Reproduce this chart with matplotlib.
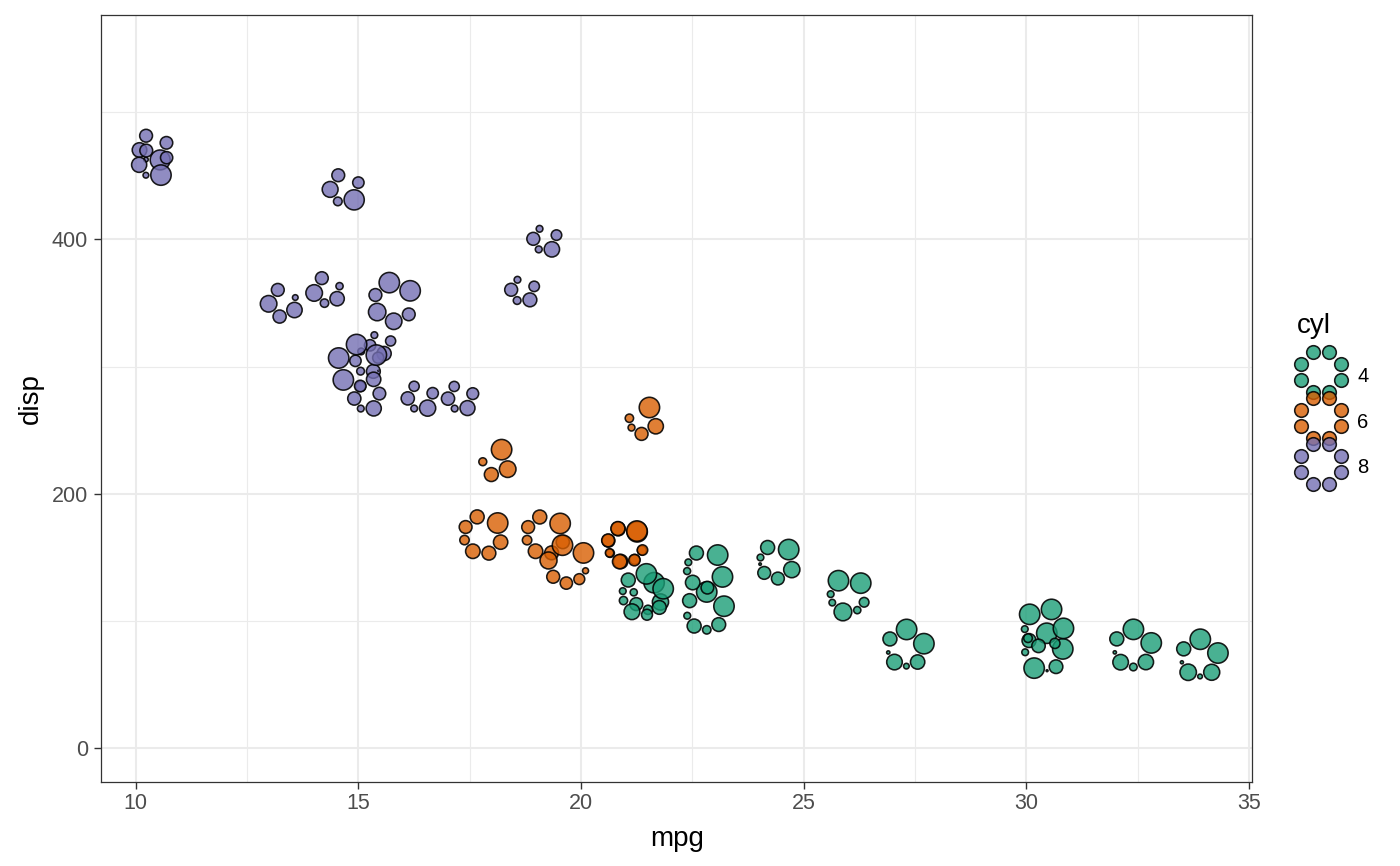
import numpy as np
import matplotlib.pyplot as plt

plt.rcParams['font.family'] = ['Liberation Sans', 'DejaVu Sans']

# mtcars
mpg = [21.0, 21.0, 22.8, 21.4, 18.7, 18.1, 14.3, 24.4, 22.8, 19.2, 17.8, 16.4, 17.3, 15.2, 10.4, 10.4,
       14.7, 32.4, 30.4, 33.9, 21.5, 15.5, 15.2, 13.3, 19.2, 27.3, 26.0, 30.4, 15.8, 19.7, 15.0, 21.4]
cyl = [6, 6, 4, 6, 8, 6, 8, 4, 4, 6, 6, 8, 8, 8, 8, 8, 8, 4, 4, 4, 4, 8, 8, 8, 8, 4, 4, 4, 8, 6, 8, 4]
disp = [160, 160, 108, 258, 360, 225, 360, 146.7, 140.8, 167.6, 167.6, 275.8, 275.8, 275.8, 472, 460,
        440, 78.7, 75.7, 71.1, 120.1, 318, 304, 350, 400, 79, 120.3, 95.1, 351, 145, 301, 121]
hp = [110, 110, 93, 110, 175, 105, 245, 62, 95, 123, 123, 180, 180, 180, 205, 215,
      230, 66, 52, 65, 97, 150, 150, 245, 175, 66, 91, 113, 264, 175, 335, 109]
drat = [3.90, 3.90, 3.85, 3.08, 3.15, 2.76, 3.21, 3.69, 3.92, 3.92, 3.92, 3.07, 3.07, 3.07, 2.93, 3.00,
        3.23, 4.08, 4.93, 4.22, 3.70, 2.76, 3.15, 3.73, 3.08, 4.08, 4.43, 3.77, 4.22, 3.62, 3.54, 4.11]
wt = [2.620, 2.875, 2.320, 3.215, 3.440, 3.460, 3.570, 3.190, 3.150, 3.440, 3.440, 4.070, 3.730, 3.780,
      5.250, 5.424, 5.345, 2.200, 1.615, 1.835, 2.465, 3.520, 3.435, 3.840, 3.845, 1.935, 2.140, 1.513,
      3.170, 2.770, 3.570, 2.780]
qsec = [16.46, 17.02, 18.61, 19.44, 17.02, 20.22, 15.84, 20.00, 22.90, 18.30, 18.90, 17.40, 17.60, 18.00,
        17.98, 17.82, 17.42, 19.47, 18.52, 19.90, 20.01, 16.87, 17.30, 15.41, 17.05, 18.90, 16.70, 16.90,
        14.50, 15.50, 14.60, 18.60]
vs = [0, 0, 1, 1, 0, 1, 0, 1, 1, 1, 1, 0, 0, 0, 0, 0, 0, 1, 1, 1, 1, 0, 0, 0, 0, 1, 0, 1, 0, 0, 0, 1]
am = [1, 1, 1, 0, 0, 0, 0, 0, 0, 0, 0, 0, 0, 0, 0, 0, 0, 1, 1, 1, 0, 0, 0, 0, 0, 1, 1, 1, 1, 1, 1, 1]
gear = [4, 4, 4, 3, 3, 3, 3, 4, 4, 4, 4, 3, 3, 3, 3, 3, 3, 4, 4, 4, 3, 3, 3, 3, 3, 4, 5, 5, 5, 5, 5, 4]
carb = [4, 4, 1, 1, 2, 1, 4, 2, 2, 4, 4, 3, 3, 3, 4, 4, 4, 1, 2, 1, 1, 2, 2, 4, 2, 1, 2, 2, 4, 6, 8, 2]

glyph_vars = [hp, drat, wt, qsec, vs, am, gear, carb]
cyl_levels = [4, 6, 8]
cyl_colors = {4: '#1B9E77', 6: '#D95F02', 8: '#7570B3'}

W, H = 1400, 866
RMAX = 11.0     # outer radius of a circle for value 1, px
ZMIN = 1.4      # room kept for an empty circle, px
GAP = 0.4       # space between neighbours, px
LW = 1.6        # outline width, px


def rescale(v):
    v = np.asarray(v, float)
    return (v - v.min()) / (v.max() - v.min())


scaled = np.column_stack([rescale(v) for v in glyph_vars])


def glyph_layout(radii):
    # neighbours touch round a closed ring; the ring radius is solved so the chain closes,
    # then the ring is turned to sit as close as possible to the eight default slots
    n = len(radii)
    lay = np.maximum(radii, ZMIN)
    chord = lay + np.roll(lay, -1) + GAP
    lo, hi = chord.max() / 2 + 1e-6, 500.0
    for _ in range(80):
        mid = (lo + hi) / 2
        tot = np.sum(2 * np.arcsin(np.clip(chord / (2 * mid), 0, 1)))
        if tot > 2 * np.pi:
            lo = mid
        else:
            hi = mid
    ring = (lo + hi) / 2
    steps = 2 * np.arcsin(np.clip(chord / (2 * ring), 0, 1))
    ang = np.concatenate([[0], np.cumsum(steps)[:-1]])
    default = np.deg2rad(202.5 + 45 * np.arange(n))
    ang = ang + np.mean(default - ang)
    return ring * np.cos(ang), ring * np.sin(ang)


def fill(col, a=0.8):
    c = plt.matplotlib.colors.to_rgb(col)
    return (c[0], c[1], c[2], a)


def marker_area(r_px):
    d = max(2 * r_px - LW, 0.5)
    return (d * 0.72) ** 2


fig = plt.figure(figsize=(W / 100, H / 100), dpi=100)
ax = fig.add_axes([101 / W, (H - 782.3) / H, (1252.3 - 101) / W, (782.3 - 15) / H])
ax.set_xlim(9.225, 35.075)
ax.set_ylim(-26.7, 576.3)

ax.set_xticks([10, 15, 20, 25, 30, 35])
ax.set_yticks([0, 200, 400])
ax.set_xticks([12.5, 17.5, 22.5, 27.5, 32.5], minor=True)
ax.set_yticks([100, 300, 500], minor=True)
ax.grid(True, which='major', color='#EBEBEB', lw=1.5)
ax.grid(True, which='minor', color='#EBEBEB', lw=0.8)
ax.set_axisbelow(True)
ax.tick_params(which='major', length=5, width=1.0, color='#333333', labelsize=15.5,
               labelcolor='#4D4D4D')
ax.tick_params(axis='x', pad=2.5)
ax.tick_params(axis='y', pad=4.5)
ax.tick_params(which='minor', length=0)
for s in ax.spines.values():
    s.set_color('#333333')
    s.set_linewidth(0.9)

fig.text(677 / W, (H - 846) / H, 'mpg', fontsize=20, ha='center', va='baseline')
fig.text(30.5 / W, (H - 398.5) / H, 'disp', fontsize=20, ha='center', va='center', rotation=90)

to_px = ax.transData
to_data = ax.transData.inverted()
for i in range(len(mpg)):
    radii = RMAX * np.sqrt(scaled[i])
    dx, dy = glyph_layout(radii)
    cx, cy = to_px.transform((mpg[i], disp[i]))
    keep = radii > 0.05
    pts = to_data.transform(np.column_stack([cx + dx[keep], cy + dy[keep]]))
    sizes = [marker_area(r) for r in radii[keep]]
    ax.scatter(pts[:, 0], pts[:, 1], s=sizes, facecolor=fill(cyl_colors[cyl[i]]),
               edgecolor=(0, 0, 0, 0.88), linewidth=LW * 0.72, zorder=3)

# legend, drawn in pixel coordinates
lax = fig.add_axes([0, 0, 1, 1])
lax.set_xlim(0, W)
lax.set_ylim(H, 0)
lax.axis('off')
lax.text(1297, 333, 'cyl', fontsize=20, va='baseline', ha='left')
key_y = [372, 418, 464]
label_base = [381.5, 428, 473]
for lvl, ky, lb in zip(cyl_levels, key_y, label_base):
    ang = np.deg2rad(22.5 + 45 * np.arange(8))
    lax.scatter(1321 + 22 * np.cos(ang), ky - 22 * np.sin(ang), s=marker_area(7.6),
                facecolor=fill(cyl_colors[lvl]), edgecolor=(0, 0, 0, 0.88), linewidth=LW * 0.72)
    lax.text(1357, lb, str(lvl), fontsize=14.5, va='baseline', ha='left')

fig.savefig('out.png', dpi=100)
